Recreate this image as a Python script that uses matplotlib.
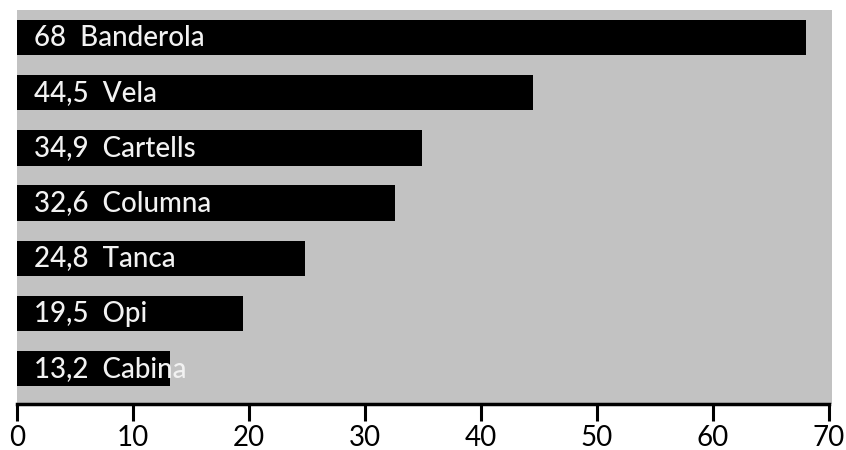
import matplotlib
matplotlib.use("Agg")
import matplotlib.pyplot as plt

categories = ["Banderola", "Vela", "Cartells", "Columna", "Tanca", "Opi", "Cabina"]
values = [68, 44.5, 34.9, 32.6, 24.8, 19.5, 13.2]
value_labels = ["68", "44,5", "34,9", "32,6", "24,8", "19,5", "13,2"]
xticks = [0, 10, 20, 30, 40, 50, 60, 70]

plt.rcParams['font.family'] = ['Lato', 'DejaVu Sans']

fig = plt.figure(figsize=(8.46, 4.5), dpi=100)
ax = fig.add_axes([17 / 846, 46 / 450, 815 / 846, 394 / 450])
ax.set_facecolor('#c2c2c2')

pos = list(range(len(categories)))
ax.barh(pos, values, height=0.64, color='black')
for y, v, c in zip(pos, value_labels, categories):
    ax.text(1.5, y, v + "  " + c, color='#f2f2f2', fontsize=20,
            va='center', ha='left', fontweight='medium')

ax.set_xlim(0, 70.26)
ax.set_ylim(6.64, -0.5)
ax.set_yticks([])
ax.set_xticks(xticks)
ax.set_xticklabels([str(t) for t in xticks], fontsize=20)
ax.tick_params(axis='x', length=12, width=2.2, pad=3, color='black')
for s in ['top', 'right', 'left']:
    ax.spines[s].set_visible(False)
ax.spines['bottom'].set_linewidth(2.5)
ax.spines['bottom'].set_bounds(0, 70)

fig.savefig("out.png", dpi=100)
